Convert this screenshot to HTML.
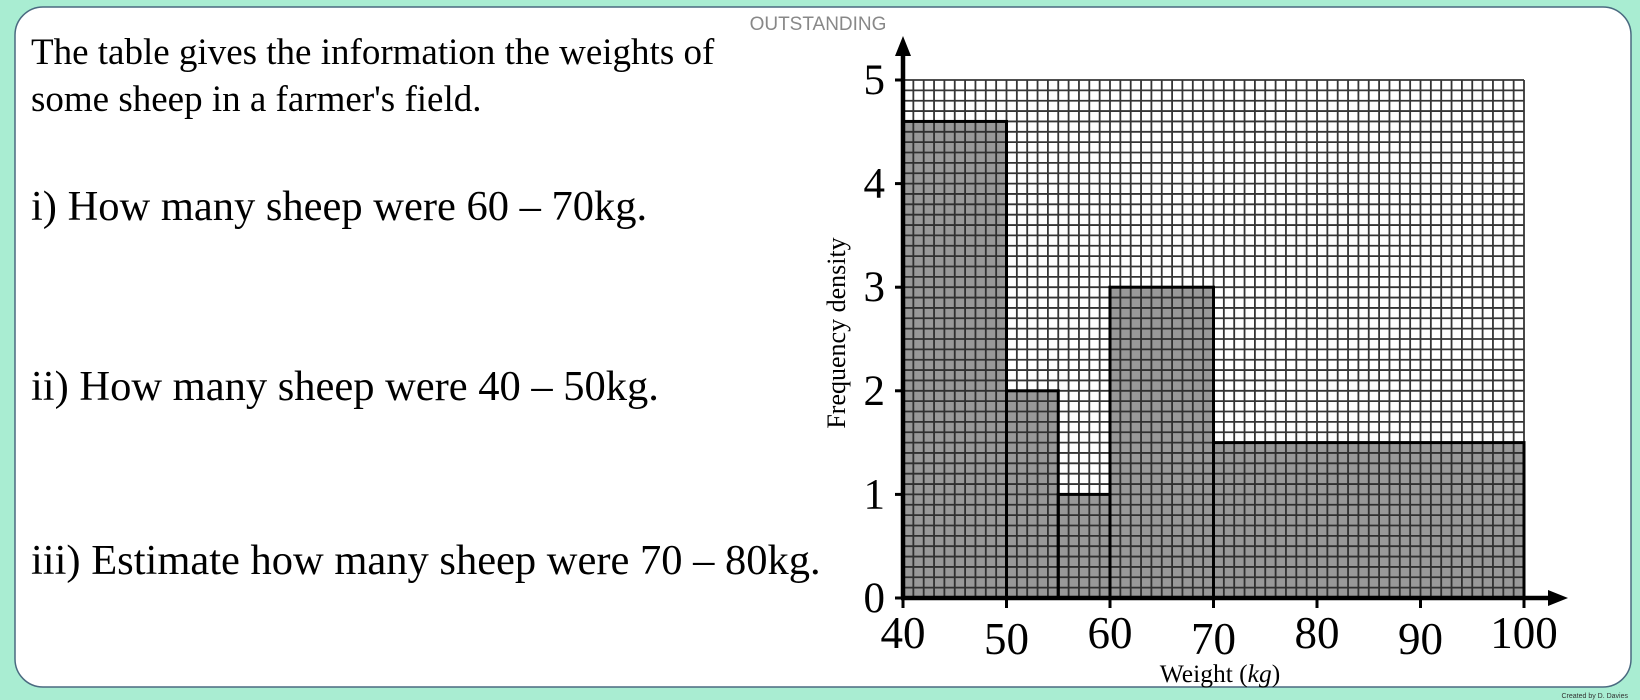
<!DOCTYPE html>
<html><head><meta charset="utf-8"><style>
html,body{margin:0;padding:0;background:#a9edd2;width:1640px;height:700px;overflow:hidden}
svg{display:block}
.q{font-family:"Liberation Serif",serif;fill:#000}
</style></head><body>
<svg width="1640" height="700" viewBox="0 0 1640 700">
<rect x="15" y="7" width="1616" height="680" rx="28" fill="#fff" stroke="#4a6a80" stroke-width="1.5"/>
<text x="818" y="30" font-family="Liberation Sans,sans-serif" font-size="19" fill="#888" text-anchor="middle">OUTSTANDING</text>
<text class="q" x="31" y="64" font-size="37">The table gives the information the weights of</text>
<text class="q" x="31" y="111" font-size="37">some sheep in a farmer's field.</text>
<text class="q" x="31" y="220" font-size="42.5">i) How many sheep were 60 – 70kg.</text>
<text class="q" x="31" y="400" font-size="42.5">ii) How many sheep were 40 – 50kg.</text>
<text class="q" x="31" y="574" font-size="42.5">iii) Estimate how many sheep were 70 – 80kg.</text>
<g id="chart"></g>
<text x="1628" y="698" font-family="Liberation Sans,sans-serif" font-size="7" fill="#333" text-anchor="end">Created by D. Davies</text>
</svg>
<script>
const binStarts=[40,50,55,60,70];
const binEnds=[50,55,60,70,100];
const densities=[4.6,2,1,3,1.5];
const xTicks=[40,50,60,70,80,90,100];
const yTicks=[0,1,2,3,4,5];
const NS='http://www.w3.org/2000/svg';
const g=document.getElementById('chart');
const X0=903,X1=1524,Y0=598,Y1=80;
const xs=v=>X0+(v-40)*(X1-X0)/60;
const ys=v=>Y0-v*(Y0-Y1)/5;
function mk(t,a,p){const e=document.createElementNS(NS,t);for(const k in a)e.setAttribute(k,a[k]);(p||g).appendChild(e);return e;}
binStarts.forEach((s,i)=>{
 const r=mk('rect',{x:xs(s),y:ys(densities[i]),width:xs(binEnds[i])-xs(s),height:ys(0)-ys(densities[i]),fill:'#999'});
 
 
});
let d='';
for(let k=0;k<=60;k++){const x=xs(40+k);d+='M'+x+' '+ys(5)+'V'+ys(0);}
for(let k=0;k<=50;k++){const y=ys(k/10);d+='M'+xs(40)+' '+y+'H'+xs(100);}
const gr=mk('path',{d:d,stroke:'#2a2a2a',"stroke-width":1.8,fill:'none',opacity:0.95});


binStarts.forEach((s,i)=>{
 const o=mk('rect',{x:xs(s),y:ys(densities[i]),width:xs(binEnds[i])-xs(s),height:ys(0)-ys(densities[i]),fill:'none',stroke:'#000','stroke-width':3});
 
 
});
const ax=mk('path',{d:'M'+X0+' '+(Y0+1)+'V48M'+(X0-2)+' '+Y0+'H1552',stroke:'#000','stroke-width':4.5,fill:'none'});


const ar=mk('path',{d:'M'+X0+' 36L'+(X0-8)+' 56L'+(X0+8)+' 56ZM1568 '+Y0+'L1548 '+(Y0-8)+'L1548 '+(Y0+8)+'Z',fill:'#000'});


yTicks.forEach(v=>{
 const tk=mk('line',{x1:X0-8,x2:X0,y1:ys(v),y2:ys(v),stroke:'#000','stroke-width':3});
 
 
 const t=mk('text',{x:X0-18,y:ys(v)+14,'font-size':43,'text-anchor':'end','class':'q'});
 t.textContent=v;
 
 
});
xTicks.forEach((v,i)=>{
 const tk=mk('line',{x1:xs(v),x2:xs(v),y1:Y0,y2:Y0+10,stroke:'#000','stroke-width':3});
 
 
 const t=mk('text',{x:xs(v),y:i%2?654:648,'font-size':45,'text-anchor':'middle','class':'q'});
 t.textContent=v;
 
 
});
const yt=mk('text',{x:0,y:0,'font-size':26,'text-anchor':'middle','class':'q',transform:'translate(845,333) rotate(-90)'});
yt.textContent='Frequency density';


const xt=mk('text',{x:1220,y:682,'font-size':25.5,'text-anchor':'middle','class':'q'});
xt.innerHTML='Weight (<tspan font-style="italic">kg</tspan>)';


</script>
</body></html>
